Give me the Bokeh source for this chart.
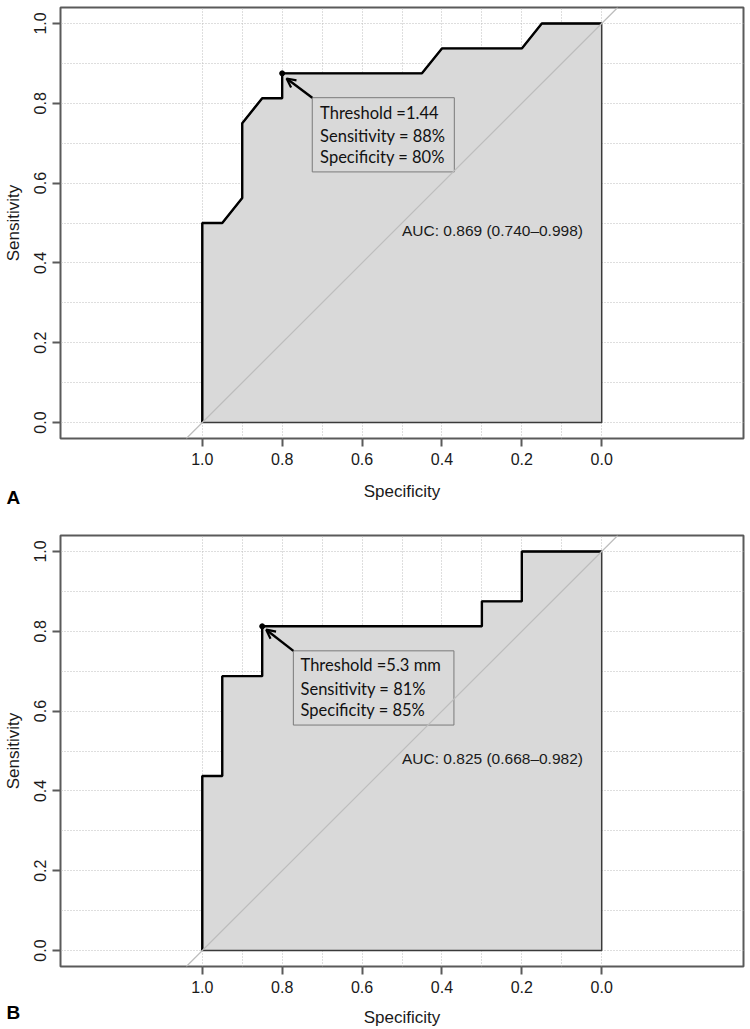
from bokeh.plotting import figure
from bokeh.layouts import column
from bokeh.models import (Range1d, FixedTicker, Slope, Label, Arrow, OpenHead,
                          PrintfTickFormatter, Title)
from bokeh.embed import file_html
from bokeh.resources import INLINE

# ---------------- data ----------------
# Panel A ROC curve (specificity, sensitivity)
spec_a = [1.0, 1.0, 0.95, 0.90, 0.90, 0.85, 0.80, 0.80, 0.45, 0.40, 0.20, 0.15, 0.0]
sens_a = [0.0, 0.5, 0.5, 0.5625, 0.75, 0.8125, 0.8125, 0.875, 0.875, 0.9375, 0.9375, 1.0, 1.0]
thr_a = (0.80, 0.875)
lines_a = ["Threshold =1.44", "Sensitivity = 88%", "Specificity = 80%"]
auc_a = "AUC: 0.869 (0.740\u20130.998)"

# Panel B ROC curve
spec_b = [1.0, 1.0, 0.95, 0.95, 0.85, 0.85, 0.30, 0.30, 0.20, 0.20, 0.0]
sens_b = [0.0, 0.4375, 0.4375, 0.6875, 0.6875, 0.8125, 0.8125, 0.875, 0.875, 1.0, 1.0]
thr_b = (0.85, 0.8125)
lines_b = ["Threshold =5.3 mm", "Sensitivity = 81%", "Specificity = 85%"]
auc_b = "AUC: 0.825 (0.668\u20130.982)"

major_ticks = [0.0, 0.2, 0.4, 0.6, 0.8, 1.0]
grid_ticks = [0.0, 0.1, 0.2, 0.3, 0.4, 0.5, 0.6, 0.7, 0.8, 0.9, 1.0]

AXIS_FONT = "Liberation Sans"
BOX_FONT = "Lato"


def panel(spec, sens, thr, lines, auc, letter, height, top, bottom,
          box, arrow_start, arrow_end, text_x, text_ys, letter_standoff, xlab_std):
    p = figure(width=750, height=height, output_backend="svg", toolbar_location=None,
               x_range=Range1d(1.355, -0.355), y_range=Range1d(-0.04, 1.04),
               min_border_left=60, min_border_right=7,
               min_border_top=top, min_border_bottom=bottom,
               background_fill_color="white", border_fill_color="white")
    p.outline_line_color = "#5a5a5a"
    p.outline_line_width = 2
    p.outline_line_alpha = 1

    # grids
    p.xgrid.ticker = FixedTicker(ticks=grid_ticks)
    p.xgrid.bounds = (-0.001, 1.001)
    p.ygrid.ticker = FixedTicker(ticks=grid_ticks)
    for g in (p.xgrid, p.ygrid):
        g.grid_line_color = "#bdbdbd"
        g.grid_line_dash = "1 2"
        g.grid_line_width = 1

    # axes
    for ax in (p.xaxis[0], p.yaxis[0]):
        ax.ticker = FixedTicker(ticks=major_ticks)
        ax.formatter = PrintfTickFormatter(format="%.1f")
        ax.axis_line_color = None
        ax.major_tick_line_color = "#5a5a5a"
        ax.major_tick_line_width = 2
        ax.major_tick_in = 0
        ax.major_tick_out = 8
        ax.minor_tick_line_color = None
        ax.major_label_text_font = AXIS_FONT
        ax.major_label_text_font_size = "16px"
        ax.major_label_text_color = "#1a1a1a"
        ax.axis_label_text_font = AXIS_FONT
        ax.axis_label_text_font_size = "17px"
        ax.axis_label_text_font_style = "normal"
        ax.axis_label_text_color = "#1a1a1a"
    p.xaxis.axis_label = "Specificity"
    p.yaxis.axis_label = "Sensitivity"
    p.xaxis.major_label_standoff = 6
    p.xaxis.axis_label_standoff = xlab_std
    p.yaxis.major_label_standoff = 6
    p.yaxis.axis_label_standoff = 9
    p.yaxis.major_label_orientation = "vertical"

    # area under curve
    px = list(spec) + [0.0]
    py = list(sens) + [0.0]
    p.patch(px, py, fill_color="#d9d9d9", line_color="#3a3a3a", line_width=1.5)
    # diagonal reference
    p.add_layout(Slope(gradient=-1, y_intercept=1, line_color="#bdbdbd", line_width=1.2))
    # ROC curve
    p.line(spec, sens, line_color="black", line_width=2.4)
    p.scatter([thr[0]], [thr[1]], size=5, color="black")

    # annotation box
    l, r, t, b = box
    p.quad(left=[l], right=[r], top=[t], bottom=[b], fill_color="#d9d9d9",
           line_color="#7a7a7a", line_width=1)
    for txt, yy in zip(lines, text_ys):
        p.add_layout(Label(x=text_x, y=yy, text=txt, text_font=BOX_FONT,
                           text_font_size="16.5px", text_color="#111111",
                           text_align="left", text_baseline="middle"))
    p.add_layout(Arrow(end=OpenHead(size=9, line_width=2.2, line_color="black"),
                       x_start=arrow_start[0], y_start=arrow_start[1],
                       x_end=arrow_end[0], y_end=arrow_end[1],
                       line_width=2.4, line_color="black"))

    p.add_layout(Label(x=0.5, y=0.482, text=auc, text_font=AXIS_FONT,
                       text_font_size="15.5px", text_color="#1a1a1a",
                       text_align="left", text_baseline="middle"))

    p.add_layout(Title(text=letter, align="left", offset=-54,
                       standoff=letter_standoff, vertical_align="top",
                       text_font=AXIS_FONT, text_font_size="19px",
                       text_font_style="bold", text_color="black"), "below")
    return p


pa = panel(spec_a, sens_a, thr_a, lines_a, auc_a, "A", 527, 7, 89,
           box=(0.7247, 0.369, 0.814, 0.628),
           arrow_start=(0.7247, 0.814), arrow_end=(0.789, 0.862),
           text_x=0.705, text_ys=(0.776, 0.719, 0.666), letter_standoff=-34,
           xlab_std=14)
pb = panel(spec_b, sens_b, thr_b, lines_b, auc_b, "B", 502, 8, 63,
           box=(0.772, 0.370, 0.751, 0.565),
           arrow_start=(0.772, 0.751), arrow_end=(0.840, 0.804),
           text_x=0.754, text_ys=(0.716, 0.656, 0.603), letter_standoff=-56,
           xlab_std=12)

layout = column(pa, pb, spacing=0)
open("out.html", "w").write(file_html(layout, INLINE))
